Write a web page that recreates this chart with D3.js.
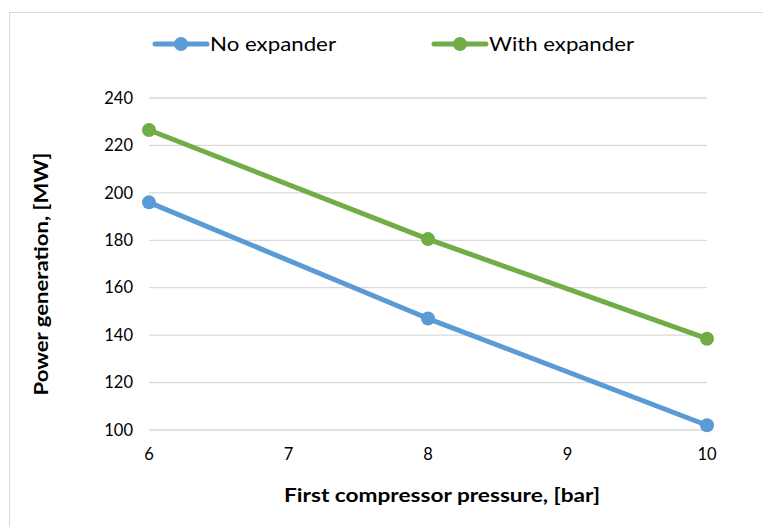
<!DOCTYPE html>
<html>
<head>
<meta charset="utf-8">
<script src="https://cdn.jsdelivr.net/npm/d3@7"></script>
<style>
  body { margin: 0; background: #fff; }
  text { font-family: Lato, "Open Sans", "Liberation Sans", sans-serif; fill: #000; }
</style>
</head>
<body>
<div id="chart"></div>
<script>
// data
const pressures = [6, 8, 10];
const noExpander = [196, 147, 102];
const withExpander = [226.5, 180.5, 138.5];
const xTicks = [6, 7, 8, 9, 10];
const yTicks = [100, 120, 140, 160, 180, 200, 220, 240];
const seriesNames = ["No expander", "With expander"];
const seriesColors = ["#5b9bd5", "#70ad47"];

const W = 763, H = 527;
const svg = d3.select("#chart").append("svg")
  .attr("width", W)
  .attr("height", H);

// chart area frame (right and bottom edges run off the picture)
svg.append("rect")
  .attr("x", 9.5).attr("y", 12.5)
  .attr("width", 800).attr("height", 600)
  .attr("fill", "#fff")
  .attr("stroke", "#d9d9d9");

const x = d3.scaleLinear().domain([6, 10]).range([149, 707]);
const y = d3.scaleLinear().domain([100, 240]).range([430, 98]);

// gridlines
svg.append("g")
  .selectAll("line")
  .data(yTicks)
  .join("line")
  .attr("x1", 149).attr("x2", 707)
  .attr("y1", d => y(d)).attr("y2", d => y(d))
  .attr("stroke", "#d9d9d9")
  .attr("stroke-width", 1.3);

// y tick labels
svg.append("g")
  .selectAll("text")
  .data(yTicks)
  .join("text")
  .attr("x", 133)
  .attr("y", d => y(d))
  .attr("dy", "0.35em")
  .attr("text-anchor", "end")
  .attr("font-size", 16.5)
  .text(d => d);

// x tick labels
svg.append("g")
  .selectAll("text")
  .data(xTicks)
  .join("text")
  .attr("x", d => x(d))
  .attr("y", 460)
  .attr("text-anchor", "middle")
  .attr("font-size", 16.5)
  .text(d => d);

// axis titles
svg.append("text")
  .attr("x", 442).attr("y", 502)
  .attr("text-anchor", "middle")
  .attr("font-size", 19)
  .attr("font-weight", "bold")
  .attr("textLength", 316)
  .attr("lengthAdjust", "spacingAndGlyphs")
  .text("First compressor pressure, [bar]");

svg.append("text")
  .attr("transform", "translate(48,274) rotate(-90)")
  .attr("text-anchor", "middle")
  .attr("font-size", 19)
  .attr("font-weight", "bold")
  .attr("textLength", 243)
  .attr("lengthAdjust", "spacingAndGlyphs")
  .text("Power generation, [MW]");

// series
const series = [noExpander, withExpander];
const line = d3.line()
  .x((d, i) => x(pressures[i]))
  .y(d => y(d));

series.forEach((vals, k) => {
  svg.append("path")
    .datum(vals)
    .attr("d", line)
    .attr("fill", "none")
    .attr("stroke", seriesColors[k])
    .attr("stroke-width", 5)
    .attr("stroke-linejoin", "round");

  svg.append("g")
    .selectAll("circle")
    .data(vals)
    .join("circle")
    .attr("cx", (d, i) => x(pressures[i]))
    .attr("cy", d => y(d))
    .attr("r", 7)
    .attr("fill", seriesColors[k]);
});

// legend
const legendX = [155, 434];
const legendW = [126, 145];
seriesNames.forEach((name, k) => {
  const g = svg.append("g").attr("transform", `translate(${legendX[k]},44)`);
  g.append("line")
    .attr("x1", 0).attr("x2", 52)
    .attr("y1", 0).attr("y2", 0)
    .attr("stroke", seriesColors[k])
    .attr("stroke-width", 5)
    .attr("stroke-linecap", "round");
  g.append("circle")
    .attr("cx", 26).attr("cy", 0)
    .attr("r", 7)
    .attr("fill", seriesColors[k]);
  g.append("text")
    .attr("x", 55).attr("y", 0)
    .attr("dy", "0.35em")
    .attr("font-size", 20)
    .attr("textLength", legendW[k])
    .attr("lengthAdjust", "spacingAndGlyphs")
    .text(name);
});
</script>
</body>
</html>
